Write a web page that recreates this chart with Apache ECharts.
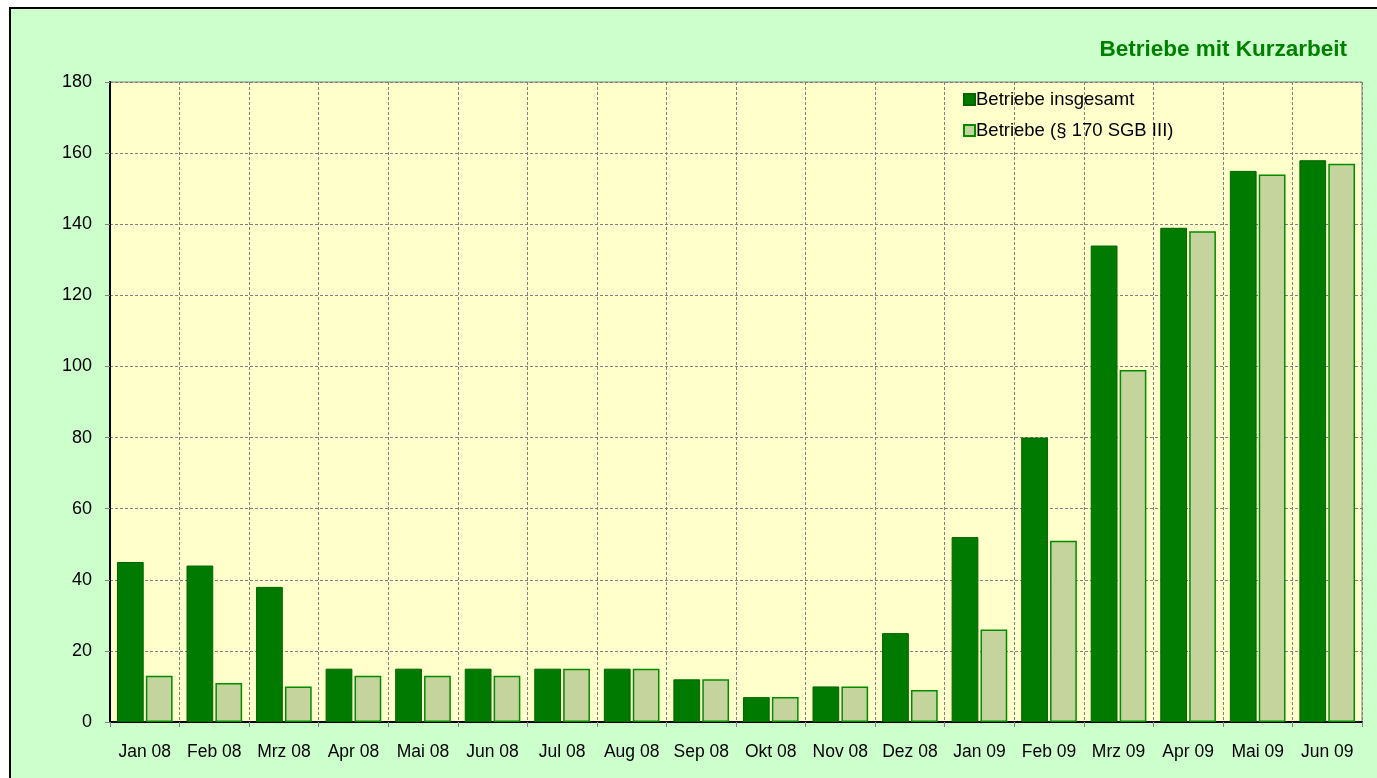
<!DOCTYPE html>
<html><head><meta charset="utf-8">
<script src="https://cdn.jsdelivr.net/npm/echarts@6/dist/echarts.min.js"></script>
<style>
html,body{margin:0;padding:0;background:#fff;overflow:hidden}
#frame{position:absolute;left:9px;top:7px;width:1380px;height:790px;background:#CCFFCC;border:2px solid #000;box-sizing:border-box}
#chart{position:absolute;left:0;top:0;width:1377px;height:778px}
</style></head>
<body>
<div id="frame"></div>
<div id="chart"></div>
<script>
const categories = ["Jan 08","Feb 08","Mrz 08","Apr 08","Mai 08","Jun 08","Jul 08","Aug 08","Sep 08","Okt 08","Nov 08","Dez 08","Jan 09","Feb 09","Mrz 09","Apr 09","Mai 09","Jun 09"];
const insgesamt = [45,44,38,15,15,15,15,15,12,7,10,25,52,80,134,139,155,158];
const sgb170 = [13,11,10,13,13,13,15,15,12,7,10,9,26,51,99,138,154,157];
const seriesNames = ["Betriebe insgesamt","Betriebe (§ 170 SGB III)"];
const titleText = "Betriebe mit Kurzarbeit";

const chart = echarts.init(document.getElementById('chart'), null, {renderer:'canvas'});
const font = '"Liberation Sans", Arial, sans-serif';
chart.setOption({
  animation:false,
  backgroundColor:'transparent',
  title:{text:titleText,right:25,top:33,textStyle:{color:'#008000',fontSize:22.5,fontWeight:'bold',fontFamily:font}},
  legend:{
    orient:'vertical',left:958,top:85,itemGap:12,itemWidth:11,itemHeight:11,icon:'rect',
    textStyle:{fontSize:18.5,color:'#000',fontFamily:font,padding:[0,0,0,-4]},
    data:seriesNames
  },
  grid:{left:110,right:15,top:82,bottom:56,show:true,backgroundColor:'#FFFFCC',borderColor:'#808080',borderWidth:1},
  xAxis:{
    type:'category',data:categories,
    axisLine:{lineStyle:{color:'#000',width:2}},
    axisTick:{show:true,length:5,interval:0,lineStyle:{color:'#808080'}},
    axisLabel:{color:'#000',fontSize:17.5,fontFamily:font,margin:21,interval:0,hideOverlap:false},
    splitLine:{show:true,interval:0,lineStyle:{color:'#808080',type:[3,2],width:1}}
  },
  yAxis:{
    type:'value',min:0,max:180,interval:20,
    axisLine:{show:true,lineStyle:{color:'#000',width:2}},
    axisTick:{show:true,length:5,lineStyle:{color:'#808080'}},
    axisLabel:{color:'#000',fontSize:18,fontFamily:font,margin:18},
    splitLine:{show:true,lineStyle:{color:'#808080',type:[3,2],width:1}}
  },
  series:[
    {name:seriesNames[0],type:'bar',data:insgesamt,barGap:'8%',barCategoryGap:'20%',
     itemStyle:{color:'#007A00',borderColor:'#006400',borderWidth:1}},
    {name:seriesNames[1],type:'bar',data:sgb170,
     itemStyle:{color:'#C4D49C',borderColor:'#008C00',borderWidth:1.5}}
  ]
});
</script>
</body></html>
